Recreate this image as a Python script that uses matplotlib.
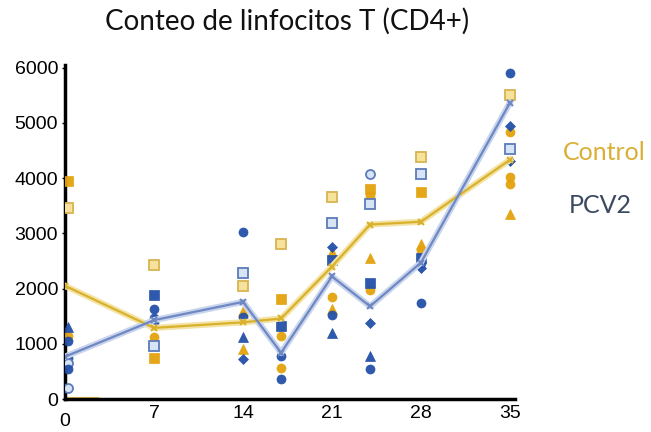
import matplotlib.pyplot as plt
import matplotlib.transforms as mtransforms

# dias de muestreo
days = [0, 7, 14, 17, 21, 24, 28, 35]

# medias por grupo
ctrl_mean = [2050, 1290, 1390, 1460, 2400, 3160, 3210, 4330]
pcv2_mean = [770, 1430, 1760, 840, 2220, 1680, 2470, 5360]

# valores individuales - Control
ctrl_days = [0, 0, 0,
             7, 7, 7,
             14, 14, 14,
             17, 17, 17, 17,
             21, 21, 21, 21,
             24, 24, 24, 24,
             28, 28, 28, 28,
             35, 35, 35, 35, 35]
ctrl_vals = [3950, 3450, 1150,
             2420, 1120, 750,
             2050, 1600, 910,
             2800, 1820, 1150, 570,
             3650, 2670, 1850, 1640,
             3800, 3670, 2560, 1980,
             4380, 3750, 2800, 2700,
             5500, 4840, 4020, 3900, 3350]
ctrl_marks = ['s', 's', 'o',
              's', 'o', 's',
              's', '^', '^',
              's', 's', 'o', 'o',
              's', '^', 'o', '^',
              's', 'o', '^', 'o',
              's', 's', '^', 'o',
              's', 'o', 'o', 'o', '^']
ctrl_light = [0, 1, 0,
              1, 0, 0,
              1, 0, 0,
              1, 0, 0, 0,
              1, 0, 0, 0,
              0, 0, 0, 0,
              1, 0, 0, 0,
              1, 0, 0, 0, 0]

# valores individuales - PCV2
pcv2_days = [0, 0, 0, 0, 0, 0,
             7, 7, 7, 7, 7,
             14, 14, 14, 14, 14,
             17, 17, 17,
             21, 21, 21, 21, 21,
             24, 24, 24, 24, 24, 24,
             28, 28, 28, 28, 28,
             35, 35, 35, 35]
pcv2_vals = [1300, 1060, 750, 660, 550, 200,
             1880, 1630, 1460, 1370, 970,
             3030, 2290, 1480, 1120, 730,
             1330, 780, 370,
             3180, 2760, 2520, 1520, 1190,
             4080, 3530, 2100, 1370, 790, 550,
             4080, 2560, 2460, 2380, 1740,
             5900, 4950, 4530, 4310]
pcv2_marks = ['^', 'o', 'o', 'o', 'o', 'o',
              's', 'o', 'o', 'o', 's',
              'o', 's', 'o', '^', 'D',
              's', 'o', 'o',
              's', 'D', 's', 'o', '^',
              'o', 's', 's', 'D', '^', 'o',
              's', 's', 'o', 'D', 'o',
              'o', 'D', 's', 'D']
pcv2_light = [0, 0, 0, 1, 0, 1,
              0, 0, 0, 0, 1,
              0, 1, 0, 0, 0,
              0, 0, 0,
              1, 0, 0, 0, 0,
              1, 1, 0, 0, 0, 0,
              1, 0, 0, 0, 0,
              0, 0, 1, 0]

# tramo amarillo sobre el eje en el dia 0
zero_seg_days = [0, 2.7]
zero_seg_vals = [0, 0]

ctrl_dark = '#E3A20C'
ctrl_pale = '#F6E29A'
ctrl_edge = '#D8B450'
pcv2_dark = '#2350A8'
pcv2_pale = '#D6E4F6'
pcv2_edge = '#5C7BB8'

plt.rcParams['font.family'] = ['Liberation Sans', 'DejaVu Sans']

fig = plt.figure(figsize=(6.51, 4.32), dpi=100)
ax = fig.add_axes([0.100, 0.076, 0.691, 0.774])


def draw_points(xs, ys, marks, light, dark_c, pale_c, edge_c):
    for x, y, m, l in zip(xs, ys, marks, light):
        xp = x + 0.25 if x == 0 else x
        sz = 6.5 if m != 'D' else 5.5
        if l:
            ax.plot(xp, y, marker=m, ms=sz, mfc=pale_c, mec=edge_c, mew=1.3,
                    ls='none', zorder=3)
        else:
            ax.plot(xp, y, marker=m, ms=sz, mfc=dark_c, mec=dark_c, mew=0.5,
                    alpha=0.95, ls='none', zorder=3)


draw_points(ctrl_days, ctrl_vals, ctrl_marks, ctrl_light, ctrl_dark, ctrl_pale, ctrl_edge)
draw_points(pcv2_days, pcv2_vals, pcv2_marks, pcv2_light, pcv2_dark, pcv2_pale, pcv2_edge)

ax.plot(zero_seg_days, zero_seg_vals, color='#E8C24A', lw=3, zorder=2, solid_capstyle='butt')

# lineas de medias (doble trazo)
ax.plot(days, ctrl_mean, color='#F3E3A6', lw=4.5, zorder=4)
ax.plot(days, ctrl_mean, color='#D9B12A', lw=1.6, marker='x', ms=5, mew=1.5, zorder=5)
ax.plot(days, pcv2_mean, color='#C9D5EC', lw=4.5, zorder=4)
ax.plot(days, pcv2_mean, color='#6F88C4', lw=1.6, marker='x', ms=5, mew=1.5, zorder=5)

ax.set_xlim(0, 35.4)
ax.set_ylim(0, 6050)
ax.set_xticks([0, 7, 14, 21, 28, 35])
ax.set_yticks([0, 1000, 2000, 3000, 4000, 5000, 6000])
ax.tick_params(axis='both', labelsize=14, length=2, width=1, colors='black', pad=3)
ax.tick_params(axis='x', length=0, pad=4)

# la etiqueta "0" del eje x va algo mas abajo
lbl0 = ax.get_xticklabels()[0]
lbl0.set_transform(lbl0.get_transform() + mtransforms.ScaledTranslation(0, -0.08, fig.dpi_scale_trans))

for side in ['top', 'right']:
    ax.spines[side].set_visible(False)
for side in ['left', 'bottom']:
    ax.spines[side].set_linewidth(2.5)

fig.text(0.441, 0.950, 'Conteo de linfocitos T (CD4+)', ha='center', va='center',
         fontsize=20, family=['Lato', 'DejaVu Sans'], color='#111111')
fig.text(0.928, 0.648, 'Control', ha='center', va='center', fontsize=18,
         family=['Lato', 'DejaVu Sans'], color='#D9B035')
fig.text(0.922, 0.525, 'PCV2', ha='center', va='center', fontsize=18,
         family=['Lato', 'DejaVu Sans'], color='#3B4A5E')

fig.savefig('out.png', dpi=100)
